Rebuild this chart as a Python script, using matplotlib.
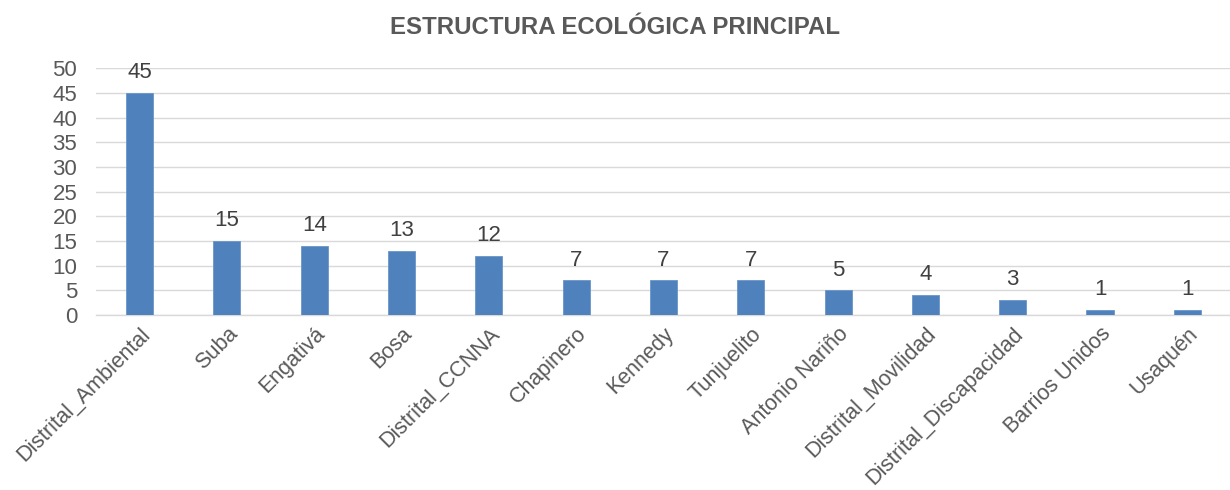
import matplotlib
matplotlib.use("Agg")
import matplotlib.pyplot as plt

plt.rcParams['font.family'] = ['Liberation Sans', 'DejaVu Sans']

categories = ["Distrital_Ambiental", "Suba", "Engativá", "Bosa", "Distrital_CCNNA",
              "Chapinero", "Kennedy", "Tunjuelito", "Antonio Nariño",
              "Distrital_Movilidad", "Distrital_Discapacidad", "Barrios Unidos", "Usaquén"]
values = [45, 15, 14, 13, 12, 7, 7, 7, 5, 4, 3, 1, 1]
title = "ESTRUCTURA ECOLÓGICA PRINCIPAL"
yticks = list(range(0, 55, 5))

txt = "#595959"
fs = 16
fig = plt.figure(figsize=(12.3, 4.9), dpi=100)
ax = fig.add_axes([0.0780, 0.357, 0.9228, 0.504])
x = range(len(categories))
ax.bar(x, values, width=0.31, color="#4F81BD", edgecolor="#6A95C9", linewidth=0.6, zorder=3)
for xi, v in zip(x, values):
    ax.text(xi, v + 3.0, str(v), ha="center", va="baseline", fontsize=fs, color="#404040")

ax.set_xlim(-0.5, len(categories) - 0.5)
ax.set_ylim(0, 50)
ax.set_yticks(yticks)
ax.set_yticklabels([str(t) for t in yticks], fontsize=fs, color=txt)
ax.set_xticks(list(x))
ax.set_xticklabels(categories, rotation=45, ha="right", va="top", rotation_mode="anchor",
                   fontsize=15.5, color=txt)
ax.tick_params(axis="y", length=0, pad=13.5)
ax.tick_params(axis="x", length=0, pad=6)
ax.grid(axis="y", color="#D9D9D9", linewidth=1, zorder=0)
for s in ["top", "right", "left"]:
    ax.spines[s].set_visible(False)
ax.spines["bottom"].set_color("#D9D9D9")
ax.spines["bottom"].set_linewidth(1)

fig.text(0.5, 0.944, title, ha="center", va="center", fontsize=17.3, fontweight="bold", color=txt)
fig.savefig("out.png", dpi=100)
